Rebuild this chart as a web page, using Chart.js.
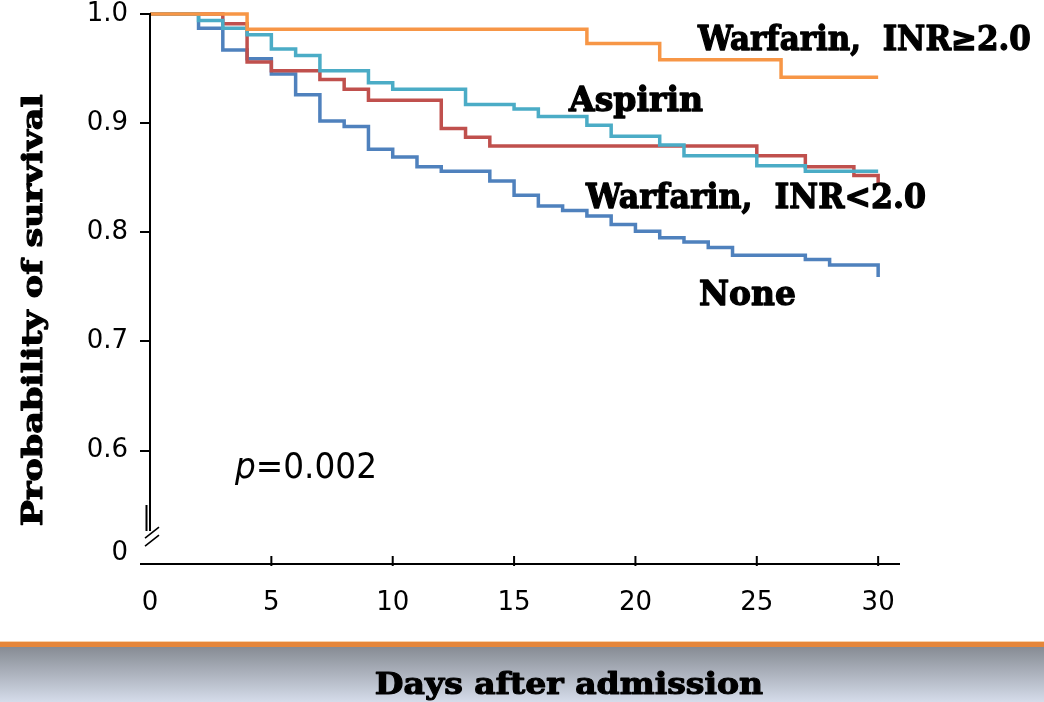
<!DOCTYPE html>
<html><head><meta charset="utf-8">
<script src="https://cdn.jsdelivr.net/npm/chart.js@4.4.1/dist/chart.umd.min.js"></script>
<style>html,body{margin:0;padding:0;background:#fff;}canvas{display:block;}</style>
</head><body>
<canvas id="c" width="1044" height="702"></canvas>
<script>
// ---- Data (Kaplan–Meier steps: day of event, survival after event) ----
const noneDays = [0, 2, 3, 4, 5, 6, 7, 8, 9, 10, 11, 12, 14, 15, 16, 17, 18, 19, 20, 21, 22, 23, 24, 27, 28, 30];
const noneSurv = [1.0, 0.987, 0.967, 0.959, 0.945, 0.926, 0.902, 0.897, 0.876, 0.869, 0.860, 0.856, 0.847, 0.834, 0.824, 0.820, 0.815, 0.807, 0.801, 0.795, 0.791, 0.786, 0.779, 0.775, 0.770, 0.759];

const inrLowDays = [0, 3, 4, 5, 7, 8, 9, 12, 13, 14, 25, 27, 29, 30];
const inrLowSurv = [1.0, 0.991, 0.956, 0.948, 0.940, 0.931, 0.921, 0.895, 0.887, 0.879, 0.870, 0.860, 0.852, 0.844];

const aspirinDays = [0, 2, 3, 4, 5, 6, 7, 9, 10, 13, 15, 16, 18, 19, 21, 22, 25, 27, 30];
const aspirinSurv = [1.0, 0.994, 0.987, 0.981, 0.968, 0.962, 0.948, 0.937, 0.931, 0.917, 0.913, 0.906, 0.898, 0.888, 0.880, 0.870, 0.861, 0.856, 0.856];

const inrHighDays = [0, 4, 18, 21, 26, 30];
const inrHighSurv = [1.0, 0.986, 0.973, 0.958, 0.942, 0.942];

const seriesNames = ['Warfarin,  INR\u22652.0', 'Aspirin', 'Warfarin,  INR<2.0', 'None'];

const xTickValues = [0, 5, 10, 15, 20, 25, 30];
const yTickValues = [0.506, 0.6, 0.7, 0.8, 0.9, 1.0];
const yTickLabels = ['0', '0.6', '0.7', '0.8', '0.9', '1.0'];

const xTitle = 'Days after admission';
const yTitle = 'Probability of survival';
const pText = ['p', '=0.002'];

// ---- Styling / layout ----
const colors = { high: '#F79646', aspirin: '#4BACC6', low: '#C0504D', none: '#4F81BD' };
const labelBoxes = [ // left, right, baseline (px) for each series label
  { left: 697, right: 1030, base: 50 },
  { left: 568, right: 703, base: 111 },
  { left: 585, right: 925, base: 208 },
  { left: 700, right: 795, base: 305 }
];
const serifBold = 'bold 33px "DejaVu Serif"';

function pts(days, surv) { return days.map((d, i) => ({ x: d, y: surv[i] })); }

function fitText(ctx, text, font, left, right, base, heavy) {
  ctx.font = font;
  const m = ctx.measureText(text);
  const ink = m.actualBoundingBoxLeft + m.actualBoundingBoxRight;
  const s = (right - left) / ink;
  ctx.save();
  ctx.translate(left + m.actualBoundingBoxLeft * s, base);
  ctx.scale(s, 1);
  ctx.textAlign = 'left'; ctx.textBaseline = 'alphabetic';
  ctx.fillText(text, 0, 0);
  if (heavy) {
    ctx.strokeStyle = ctx.fillStyle;
    ctx.lineWidth = heavy;
    ctx.lineJoin = 'round';
    ctx.strokeText(text, 0, 0);
  }
  ctx.restore();
}

const decor = {
  id: 'decor',
  beforeDraw(chart) {
    const ctx = chart.ctx;
    ctx.save();
    const g = ctx.createLinearGradient(0, 646, 0, 702);
    g.addColorStop(0, '#858a92');
    g.addColorStop(1, '#d5dcea');
    ctx.fillStyle = g;
    ctx.fillRect(0, 646, 1044, 56);
    ctx.fillStyle = '#f6d2ad';
    ctx.fillRect(0, 641, 1044, 1);
    ctx.fillStyle = '#e5863a';
    ctx.fillRect(0, 642, 1044, 5);
    ctx.restore();
  },
  afterDraw(chart) {
    const ctx = chart.ctx;
    const xs = chart.scales.x, ys = chart.scales.y;
    const x0 = xs.getPixelForValue(0);
    const yTop = ys.getPixelForValue(1.0);
    const yBot = chart.chartArea.bottom;
    const yBreak = ys.getPixelForValue(0.55);
    ctx.save();
    ctx.strokeStyle = '#000';
    ctx.lineWidth = 2;
    // y axis with break
    ctx.beginPath();
    ctx.moveTo(x0, yTop - 1); ctx.lineTo(x0, yBreak + 26);
    ctx.moveTo(x0 - 3.5, yBreak); ctx.lineTo(x0 - 3.5, yBreak + 26);
    ctx.moveTo(x0 - 10, yTop); ctx.lineTo(x0, yTop);
    ctx.stroke();
    ctx.lineWidth = 1.6;
    ctx.beginPath();
    ctx.moveTo(x0 - 5, yBreak + 33); ctx.lineTo(x0 + 9, yBreak + 22);
    ctx.moveTo(x0 - 5, yBreak + 41); ctx.lineTo(x0 + 9, yBreak + 30);
    ctx.stroke();
    // x axis
    ctx.lineWidth = 2;
    ctx.beginPath();
    ctx.moveTo(x0 - 10, yBot); ctx.lineTo(chart.chartArea.right, yBot);
    xTickValues.forEach(v => {
      if (v === 0) return;
      const px = xs.getPixelForValue(v);
      ctx.moveTo(px, yBot - 8); ctx.lineTo(px, yBot + 2);
    });
    ctx.stroke();

    // series labels
    ctx.fillStyle = '#000';
    seriesNames.forEach((t, i) => {
      const b = labelBoxes[i];
      fitText(ctx, t, serifBold, b.left, b.right, b.base, 1.3);
    });

    // p value
    ctx.font = 'italic 35px "DejaVu Sans"';
    const wP = ctx.measureText(pText[0]).width;
    ctx.font = '35px "DejaVu Sans"';
    const wR = ctx.measureText(pText[1]).width;
    const sc = 142 / (wP + wR);
    ctx.save();
    ctx.translate(235, 478);
    ctx.scale(sc, 1);
    ctx.textBaseline = 'alphabetic'; ctx.textAlign = 'left';
    ctx.font = 'italic 35px "DejaVu Sans"';
    ctx.fillText(pText[0], 0, 0);
    ctx.font = '35px "DejaVu Sans"';
    ctx.fillText(pText[1], wP, 0);
    ctx.restore();

    // axis titles
    ctx.save();
    ctx.translate(42, 525);
    ctx.rotate(-Math.PI / 2);
    fitText(ctx, yTitle, 'bold 28px "DejaVu Serif"', 0, 430, 0, 1.1);
    ctx.restore();
    fitText(ctx, xTitle, 'bold 29px "DejaVu Serif"', 376, 763, 694, 1.1);
    ctx.restore();
  }
};

const tickFont = { family: '"DejaVu Sans"', size: 26, lineHeight: 1 };

new Chart(document.getElementById('c'), {
  type: 'line',
  data: {
    datasets: [
      { label: seriesNames[0], data: pts(inrHighDays, inrHighSurv), borderColor: colors.high },
      { label: seriesNames[1], data: pts(aspirinDays, aspirinSurv), borderColor: colors.aspirin },
      { label: seriesNames[2], data: pts(inrLowDays, inrLowSurv), borderColor: colors.low },
      { label: seriesNames[3], data: pts(noneDays, noneSurv), borderColor: colors.none }
    ].map(d => Object.assign(d, { stepped: 'before', borderWidth: 3.5, pointRadius: 0, fill: false, clip: false, borderCapStyle: 'butt', borderJoinStyle: 'miter' }))
  },
  options: {
    responsive: false,
    animation: false,
    layout: { padding: { top: 14, right: 144, bottom: 0, left: 0 } },
    plugins: { legend: { display: false }, tooltip: { enabled: false } },
    scales: {
      x: {
        type: 'linear', min: 0, max: 30.9,
        afterBuildTicks: s => { s.ticks = xTickValues.map(v => ({ value: v })); },
        afterFit: s => { s.height = 138; s.paddingLeft = 0; s.paddingRight = 0; },
        ticks: { font: tickFont, color: '#000', padding: 26, maxRotation: 0, callback: v => String(v) },
        grid: { display: false, drawTicks: false },
        border: { display: false }
      },
      y: {
        type: 'linear', min: 0.496, max: 1.0,
        afterBuildTicks: s => { s.ticks = yTickValues.map(v => ({ value: v })); },
        afterFit: s => { s.width = 150; s.paddingTop = 0; s.paddingBottom = 0; },
        ticks: { font: tickFont, color: '#000', padding: 12, callback: (v, i) => yTickLabels[i] },
        grid: {
          drawOnChartArea: false, drawTicks: true, tickLength: 10, lineWidth: 2,
          color: c => (c.tick && c.tick.value < 0.55) ? 'rgba(0,0,0,0)' : '#000'
        },
        border: { display: false }
      }
    }
  },
  plugins: [decor]
});
</script>
</body></html>
